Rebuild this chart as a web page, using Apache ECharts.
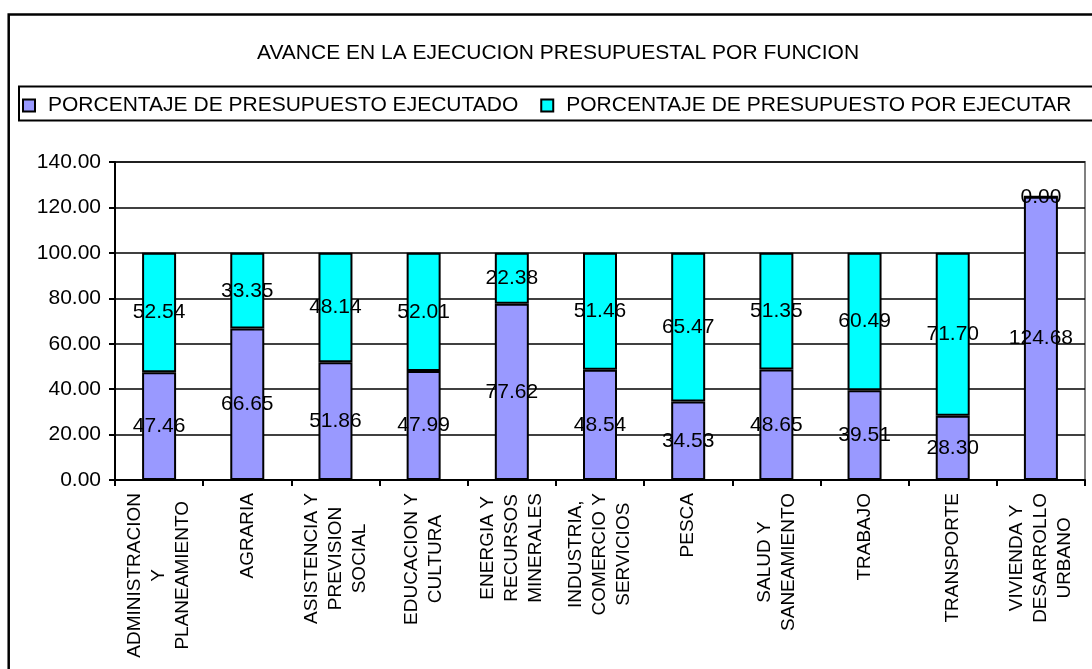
<!DOCTYPE html>
<html>
<head>
<meta charset="utf-8">
<script src="https://cdn.jsdelivr.net/npm/echarts@6/dist/echarts.min.js"></script>
<style>
html,body{margin:0;padding:0;background:#fff;}
#chart{width:1092px;height:669px;}
</style>
</head>
<body>
<div id="chart"></div>
<script>
const categories = [
  "ADMINISTRACION\nY\nPLANEAMIENTO",
  "AGRARIA",
  "ASISTENCIA Y\nPREVISION\nSOCIAL",
  "EDUCACION Y\nCULTURA",
  "ENERGIA Y\nRECURSOS\nMINERALES",
  "INDUSTRIA,\nCOMERCIO Y\nSERVICIOS",
  "PESCA",
  "SALUD Y\nSANEAMIENTO",
  "TRABAJO",
  "TRANSPORTE",
  "VIVIENDA Y\nDESARROLLO\nURBANO"
];
const ejecutado = [47.46, 66.65, 51.86, 47.99, 77.62, 48.54, 34.53, 48.65, 39.51, 28.30, 124.68];
const porEjecutar = [52.54, 33.35, 48.14, 52.01, 22.38, 51.46, 65.47, 51.35, 60.49, 71.70, 0.00];
const seriesNames = ["PORCENTAJE DE PRESUPUESTO EJECUTADO", "PORCENTAJE DE PRESUPUESTO POR EJECUTAR"];
const titleText = "AVANCE EN LA EJECUCION PRESUPUESTAL POR FUNCION";

const FONT = "'Liberation Sans', Arial, sans-serif";
const chart = echarts.init(document.getElementById('chart'), null, {renderer: 'canvas'});

const labelCfg = {
  show: true,
  position: 'inside',
  color: '#000',
  fontFamily: FONT,
  fontSize: 21,
  formatter: p => Number(p.value).toFixed(2)
};

chart.setOption({
  animation: false,
  backgroundColor: '#fff',
  title: {
    text: titleText,
    left: 553,
    textAlign: 'center',
    top: 38,
    textStyle: {fontFamily: FONT, fontSize: 21, fontWeight: 'normal', color: '#000'}
  },
  graphic: [
    {type: 'rect', shape: {x: 8.7, y: 14.5, width: 1100, height: 700},
     style: {fill: 'none', stroke: '#000', lineWidth: 2.5}, z: 100},
    {type: 'rect', shape: {x: 19, y: 86.5, width: 1100, height: 34},
     style: {fill: 'none', stroke: '#000', lineWidth: 2}, z: 100}
  ],
  legend: {
    left: 22,
    top: 95,
    padding: 0,
    itemWidth: 12,
    itemHeight: 12,
    itemGap: 22,
    icon: 'rect',
    textStyle: {fontFamily: FONT, fontSize: 21, color: '#000', padding: [0, 0, 0, 8]},
    data: seriesNames
  },
  grid: {left: 115, right: 7, top: 162, bottom: 189, show: true, borderColor: '#808080', borderWidth: 2},
  xAxis: {
    type: 'category',
    data: categories,
    boundaryGap: true,
    axisLine: {lineStyle: {color: '#000', width: 2}},
    axisTick: {show: true, inside: false, length: 6, alignWithLabel: false, lineStyle: {color: '#000', width: 2}},
    axisLabel: {
      interval: 0,
      rotate: 90,
      margin: 13,
      color: '#000',
      fontFamily: FONT,
      fontSize: 19,
      lineHeight: 24,
      formatter: v => v.split('\n').map(s => '{c|' + s + '}').join('\n'),
      rich: {c: {align: 'center', fontFamily: FONT, fontSize: 19, lineHeight: 24, color: '#000'}}
    },
    splitLine: {show: false}
  },
  yAxis: {
    type: 'value',
    min: 0,
    max: 140,
    interval: 20,
    axisLine: {show: true, lineStyle: {color: '#000', width: 2}},
    axisTick: {show: true, inside: false, length: 6, lineStyle: {color: '#000', width: 2}},
    axisLabel: {
      color: '#000', fontFamily: FONT, fontSize: 21, margin: 14,
      formatter: v => v.toFixed(2)
    },
    splitLine: {show: true, lineStyle: {color: '#000', width: 1.5}}
  },
  series: [
    {
      name: seriesNames[0],
      type: 'bar',
      stack: 'total',
      barWidth: 34,
      data: ejecutado,
      itemStyle: {color: '#9999FF', borderColor: '#000', borderWidth: 2},
      label: labelCfg
    },
    {
      name: seriesNames[1],
      type: 'bar',
      stack: 'total',
      barWidth: 34,
      data: porEjecutar,
      itemStyle: {color: '#00FFFF', borderColor: '#000', borderWidth: 2},
      label: labelCfg
    }
  ]
});
</script>
</body>
</html>
